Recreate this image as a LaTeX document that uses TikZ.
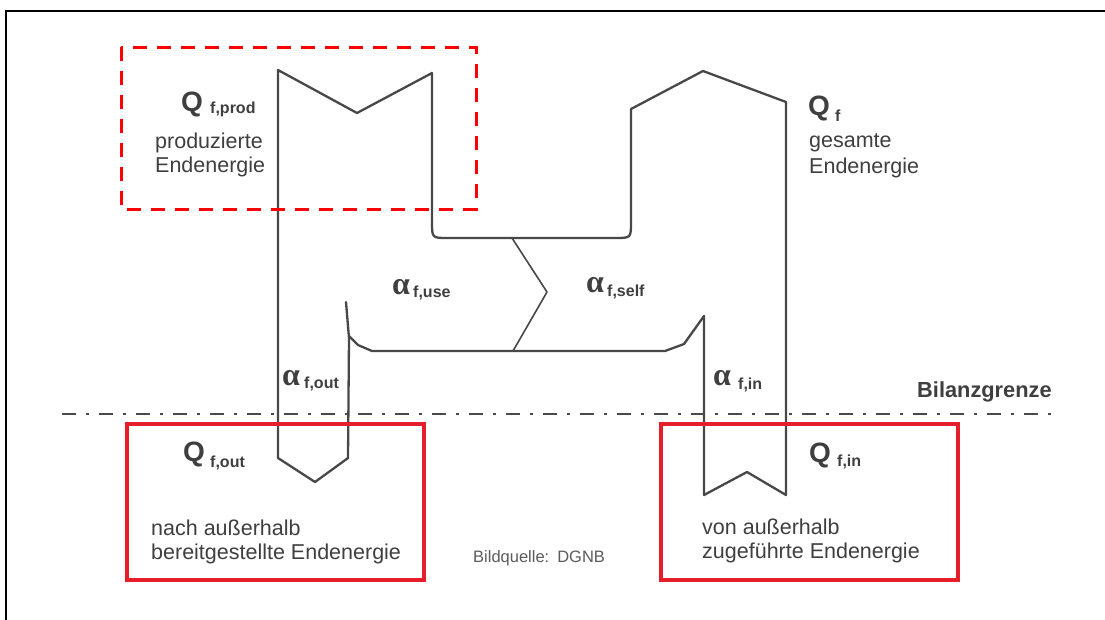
\documentclass[tikz,border=0pt]{standalone}
\usepackage{fontspec}
\setmainfont{Liberation Sans}
\newfontfamily\greekface{Liberation Serif}
\definecolor{ink}{HTML}{3F3F3F}
\definecolor{flow}{HTML}{484848}
\definecolor{rim}{HTML}{E61E2A}
\definecolor{guide}{HTML}{FF0000}
\definecolor{limit}{HTML}{4A4A4A}
\tikzset{
  flowline/.style={draw=flow, line width=2.3pt, line join=round, line cap=round},
  txt/.style={inner sep=0pt, anchor=base west, text=ink, font=\fontsize{21.5}{24}\selectfont},
  qsym/.style={inner sep=0pt, anchor=base west, text=ink, font=\fontsize{28}{30}\selectfont\bfseries},
  asym/.style={inner sep=0pt, anchor=base west, text=ink, font=\greekface\fontsize{32}{34}\selectfont\bfseries},
  subs/.style={inner sep=0pt, anchor=base west, text=ink, font=\fontsize{16}{18}\selectfont\bfseries},
  boxframe/.style={draw=rim, line width=3.8pt},
}
\begin{document}
\begin{tikzpicture}[x=1pt, y=-1pt]
\useasboundingbox (0,0) rectangle (1105,619);
\fill[white] (0,0) rectangle (1105,619);

% outer frame (only top and left edges visible)
\draw[black, line width=2.6pt] (6,625) -- (6,11) -- (1112,11);

% energy flow outline
\draw[flowline] (346,302) -- (349,338) -- (348,458) -- (315,482) -- (278,458) -- (278,70)
  -- (357,113) -- (432,73) -- (432,222) .. controls (432,238) and (432,238) .. (448,238)
  -- (615,238) .. controls (631,238) and (631,238) .. (631,222) -- (631,109)
  -- (703,71) -- (786,102) -- (786,495) -- (747,472) -- (704,495) -- (704,316);
% lower cross bar
\draw[flowline] (349,336) -- (358,345) -- (372,351) -- (665,351) -- (684,344) -- (704,316);
% split between use and self
\draw[flowline, line width=1.6pt] (512,238) -- (547,292) -- (513,351);

% balance boundary
\draw[limit, line width=2.4pt, dash pattern=on 14pt off 10pt on 3pt off 10pt] (62,414) -- (1058,414);
\node[inner sep=0pt, anchor=base west, text=ink, font=\fontsize{21.8}{24}\selectfont\bfseries] (bilanz) at (917,397) {Bilanzgrenze};

% system boxes
\draw[guide, line width=3pt, dash pattern=on 14pt off 10pt] (121,47) rectangle (476,209);
\draw[boxframe] (127,424) rectangle (424,580);
\draw[boxframe] (661,424) rectangle (958,580);

% produced energy
\node[qsym] (qprod) at (181,111) {Q};
\node[subs] (qprodsub) at (210,113) {f,prod};
\node[txt] (prodA) at (155,148) {produzierte};
\node[txt] (prodB) at (155,172) {Endenergie};

% total energy
\node[qsym] (qtot) at (808,115) {Q};
\node[subs] (qtotsub) at (835,121) {f};
\node[txt] (totA) at (809,147) {gesamte};
\node[txt] (totB) at (809,173) {Endenergie};

% exported energy
\node[qsym] (qout) at (183,461) {Q};
\node[subs] (qoutsub) at (210,467) {f,out};
\node[txt] (outA) at (151,535) {nach außerhalb};
\node[txt] (outB) at (151,559) {bereitgestellte Endenergie};

% imported energy
\node[qsym] (qin) at (809,462) {Q};
\node[subs] (qinsub) at (837,466) {f,in};
\node[txt] (inA) at (702,534) {von außerhalb};
\node[txt] (inB) at (702,558) {zugeführte Endenergie};

% shares
\node[asym] (ause) at (392,294) {α};
\node[subs] (ausesub) at (413,297) {f,use};
\node[asym] (aself) at (586,292) {α};
\node[subs] (aselfsub) at (607,296) {f,self};
\node[asym] (aout) at (282,385) {α};
\node[subs] (aoutsub) at (304,388) {f,out};
\node[asym] (ain) at (713,385) {α};
\node[subs] (ainsub) at (738,389) {f,in};

% source
\node[inner sep=0pt, anchor=base west, text=ink!85, font=\fontsize{16.5}{18}\selectfont] (quelle) at (473,562) {Bildquelle:\hspace{8pt}DGNB};
\end{tikzpicture}
\end{document}
